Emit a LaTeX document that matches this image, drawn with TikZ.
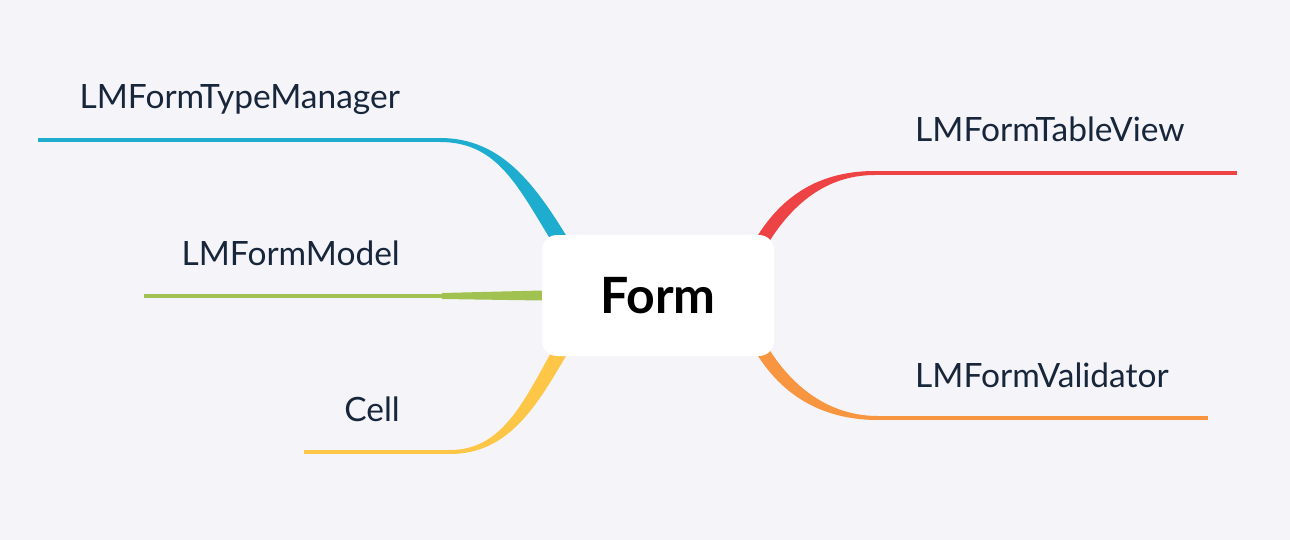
\documentclass[tikz,border=0pt]{standalone}
\usepackage{fontspec}
\setmainfont{Lato}
\usetikzlibrary{backgrounds}
\definecolor{pagebg}{HTML}{F5F5F9}
\definecolor{textnavy}{HTML}{17263A}
\definecolor{typecol}{HTML}{1FADCF}
\definecolor{modelcol}{HTML}{A1C250}
\definecolor{cellcol}{HTML}{FDC646}
\definecolor{tablecol}{HTML}{EE4344}
\definecolor{validcol}{HTML}{F79540}
\tikzset{
  root/.style={fill=white, rounded corners=15pt, minimum width=232pt, minimum height=121pt,
    inner sep=0pt, text=black, font=\bfseries\fontsize{50}{56}\selectfont},
  leaf/.style={inner sep=0pt, text=textnavy, font=\fontsize{33.5}{38}\selectfont},
  stem/.style={line width=4pt},
}
\begin{document}
\begin{tikzpicture}[x=1pt,y=-1pt]
    %% centre
    \node[root] (form) at (658,295.5) {Form};
    %% labels
    \node[leaf,anchor=base east] (typeman) at (400,109) {LMFormTypeManager};
    \node[leaf,anchor=base east] (model) at (400,265) {LMFormModel};
    \node[leaf,anchor=base east] (cell) at (400,421) {Cell};
    \node[leaf,anchor=base west] (tableview) at (915,142) {LMFormTableView};
    \node[leaf,anchor=base west] (validator) at (915,387) {LMFormValidator};
    %% line ends
    \coordinate (typeA) at (38,140);   \coordinate (typeB) at (440,140);
    \coordinate (modelA) at (144,296); \coordinate (modelB) at (442,296);
    \coordinate (cellA) at (304,452);  \coordinate (cellB) at (450,452);
    \coordinate (tableA) at (1237,173); \coordinate (tableB) at (875,173);
    \coordinate (validA) at (1208,418); \coordinate (validB) at (878,418);
    \begin{scope}[on background layer]
    \fill[pagebg] (0,0) rectangle (1290,540);
    %% left branches
    \draw[stem,typecol] (typeA) -- (typeB);
    \fill[typecol] ([yshift=2pt]typeB) .. controls +(62,0) and +(-36,-60) .. ([xshift=30pt,yshift=-10pt]form.north west)
      -- ([xshift=12pt,yshift=-10pt]form.north west) .. controls +(-36,-58) and +(58,0) .. ([yshift=-2pt]typeB) -- cycle;
    \draw[stem,modelcol] (modelA) -- (modelB);
    \fill[modelcol] ([yshift=3pt]modelB) -- ([yshift=5pt]form.west) -- ([yshift=-5pt]form.west) -- ([yshift=-3pt]modelB) -- cycle;
    \draw[stem,cellcol] (cellA) -- (cellB);
    \fill[cellcol] ([yshift=-2pt]cellB) .. controls +(62,0) and +(-32,54) .. ([xshift=30pt,yshift=10pt]form.south west)
      -- ([xshift=13pt,yshift=10pt]form.south west) .. controls +(-30,52) and +(54,0) .. ([yshift=2pt]cellB) -- cycle;
    %% right branches
    \draw[stem,tablecol] (tableA) -- (tableB);
    \fill[tablecol] ([yshift=2pt]tableB) .. controls +(-50,0) and +(30,-54) .. ([xshift=-22pt,yshift=-10pt]form.north east)
      -- ([xshift=-7pt,yshift=-10pt]form.north east) .. controls +(28,-46) and +(-44,0) .. ([yshift=-2pt]tableB) -- cycle;
    \draw[stem,validcol] (validA) -- (validB);
    \fill[validcol] ([yshift=-2pt]validB) .. controls +(-50,0) and +(30,54) .. ([xshift=-22pt,yshift=10pt]form.south east)
      -- ([xshift=-7pt,yshift=10pt]form.south east) .. controls +(28,46) and +(-44,0) .. ([yshift=2pt]validB) -- cycle;
    \end{scope}
\end{tikzpicture}
\end{document}
